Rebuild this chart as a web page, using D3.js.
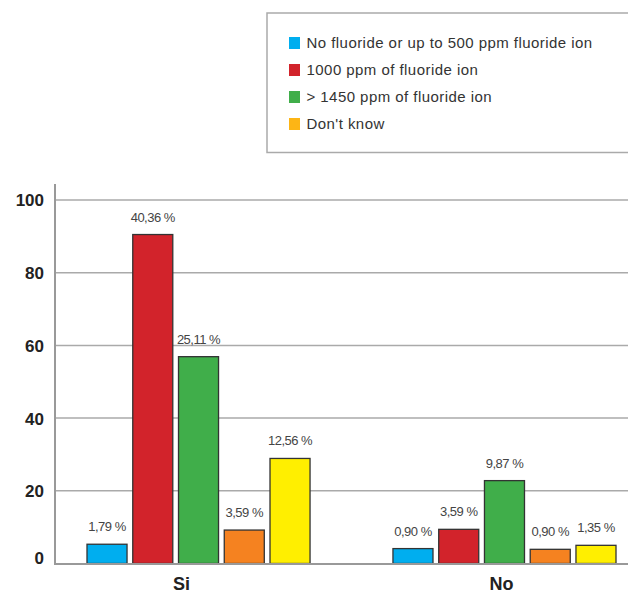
<!DOCTYPE html>
<html>
<head>
<meta charset="utf-8">
<script src="https://cdn.jsdelivr.net/npm/d3@7"></script>
<style>
  html, body { margin: 0; padding: 0; background: #fff; }
  svg { display: block; }
  text { font-family: "Liberation Sans", Arial, Helvetica, sans-serif; }
</style>
</head>
<body>
<svg id="chart" width="628" height="594"></svg>
<script>
// ---- data ----
const categories = ["Si", "No"];
const seriesKeys = ["s1", "s2", "s3", "s4", "s5"];
const siValues = [5.3, 90.5, 56.9, 9.2, 28.9];
const noValues = [4.1, 9.4, 22.8, 3.9, 5.0];
const siLabels = ["1,79 %", "40,36 %", "25,11 %", "3,59 %", "12,56 %"];
const noLabels = ["0,90 %", "3,59 %", "9,87 %", "0,90 %", "1,35 %"];
const legendLabels = [
  "No fluoride or up to 500 ppm fluoride ion",
  "1000 ppm of fluoride ion",
  "> 1450 ppm of fluoride ion",
  "Don't know"
];
const yTicks = [0, 20, 40, 60, 80, 100];

// ---- style ----
const barColors = ["#00AEEF", "#D2232B", "#40AE4A", "#F58220", "#FFEF00"];
const legendColors = ["#00AEEF", "#D2232B", "#40AE4A", "#FDB515"];

const svg = d3.select("#chart");

const rows = [
  { cat: categories[0], values: siValues, labels: siLabels },
  { cat: categories[1], values: noValues, labels: noLabels }
];

const x0 = d3.scaleBand().domain(categories).range([87, 616]).paddingInner(0.271).paddingOuter(0);
const x1 = d3.scaleBand().domain(seriesKeys).range([0, x0.bandwidth()]).paddingInner(0.125).paddingOuter(0);
const y = d3.scaleLinear().domain([0, 100]).range([563.5, 200]);

// gridlines
svg.append("g")
  .selectAll("line")
  .data(yTicks.filter(d => d > 0))
  .join("line")
  .attr("x1", 56).attr("x2", 628)
  .attr("y1", d => y(d)).attr("y2", d => y(d))
  .attr("stroke", "#aaaaaa").attr("stroke-width", 1.5);

// y axis
const yAxis = svg.append("g")
  .attr("transform", "translate(55,0)")
  .call(d3.axisLeft(y).tickValues(yTicks).tickSize(0).tickPadding(11));
yAxis.select(".domain").remove();
yAxis.append("line")
  .attr("x1", 0).attr("x2", 0).attr("y1", 184).attr("y2", 564.5)
  .attr("stroke", "#999999").attr("stroke-width", 2);
yAxis.selectAll(".tick text")
  .attr("font-size", 17).attr("font-weight", "bold").attr("fill", "#222")
  .attr("font-family", "'Liberation Sans', Arial, sans-serif")
  .attr("dy", d => d === 0 ? "-0.02em" : "0.35em");

// bars
const groups = svg.append("g")
  .selectAll("g")
  .data(rows)
  .join("g")
  .attr("transform", d => `translate(${x0(d.cat)},0)`);

groups.selectAll("rect")
  .data(d => d.values.map((v, i) => ({ key: seriesKeys[i], v, i })))
  .join("rect")
  .attr("x", d => x1(d.key))
  .attr("y", d => y(d.v))
  .attr("width", x1.bandwidth())
  .attr("height", d => y(0) - y(d.v))
  .attr("fill", d => barColors[d.i])
  .attr("stroke", "#333")
  .attr("stroke-width", 1.3);

groups.selectAll("text")
  .data(d => d.values.map((v, i) => ({ key: seriesKeys[i], v, i, label: d.labels[i] })))
  .join("text")
  .attr("x", d => x1(d.key) + x1.bandwidth() / 2)
  .attr("y", d => y(d.v) - 13)
  .attr("text-anchor", "middle")
  .attr("font-size", 13)
  .attr("fill", "#444")
  .attr("letter-spacing", "-0.5")
  .text(d => d.label);

// x axis baseline
svg.append("line")
  .attr("x1", 54).attr("x2", 628)
  .attr("y1", y(0) + 0.5).attr("y2", y(0) + 0.5)
  .attr("stroke", "#999999").attr("stroke-width", 2);

// x axis labels
const xAxis = svg.append("g")
  .attr("transform", `translate(0,${y(0)})`)
  .call(d3.axisBottom(x0).tickSize(0).tickPadding(14));
xAxis.select(".domain").remove();
xAxis.selectAll(".tick text")
  .attr("font-size", 18).attr("font-weight", "bold").attr("fill", "#222")
  .attr("font-family", "'Liberation Sans', Arial, sans-serif")
  .attr("dx", (d, i) => i === 0 ? -17 : -3);

// legend
const legend = svg.append("g");
legend.append("path")
  .attr("d", "M 640 13 H 267 V 152.5 H 640")
  .attr("fill", "none").attr("stroke", "#aaaaaa").attr("stroke-width", 1.5);

const lg = legend.selectAll("g.item")
  .data(legendLabels)
  .join("g")
  .attr("class", "item")
  .attr("transform", (d, i) => `translate(289,${43 + i * 27})`);
lg.append("rect")
  .attr("x", 0).attr("y", -6).attr("width", 11).attr("height", 12)
  .attr("fill", (d, i) => legendColors[i]);
lg.append("text")
  .attr("x", 17.5).attr("y", 0).attr("dy", "0.35em")
  .attr("font-size", 15).attr("fill", "#333")
  .attr("letter-spacing", "0.45")
  .text(d => d);
</script>
</body>
</html>
